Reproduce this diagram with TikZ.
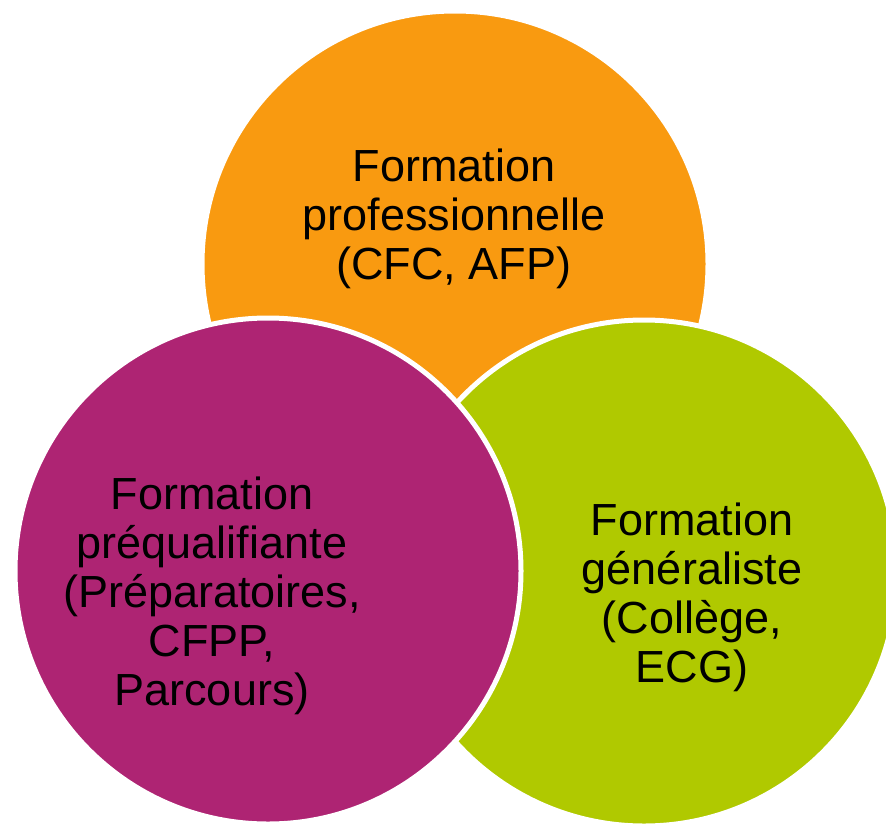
\documentclass[tikz,border=0pt]{standalone}
\usepackage{fontspec}
\setmainfont{Liberation Sans}
\definecolor{corange}{HTML}{F99A10}
\definecolor{cgreen}{HTML}{B0C900}
\definecolor{cmagenta}{HTML}{AE2473}
\begin{document}
\begin{tikzpicture}[x=1pt,y=-1pt,
  bubble/.style={circle, draw=white, line width=5pt, minimum size=506pt, inner sep=0pt},
  label/.style={align=center, font=\fontsize{45}{49}\selectfont, text=black}]
\useasboundingbox (0,0) rectangle (886,825);
\clip (0,0) rectangle (886,825);
\node[bubble, fill=corange] (orange) at (455,264) {};
\node[bubble, fill=cgreen] (green) at (644,573) {};
\node[bubble, fill=cmagenta] (magenta) at (268,571) {};
\node[label] (tor) at (454,219) {Formation\\professionnelle\\(CFC, AFP)};
\node[label] (tgr) at (692,597) {Formation\\généraliste\\(Collège,\\ECG)};
\node[label] (tma) at (212,596) {Formation\\préqualifiante\\(Préparatoires,\\CFPP,\\Parcours)};
\end{tikzpicture}
\end{document}
